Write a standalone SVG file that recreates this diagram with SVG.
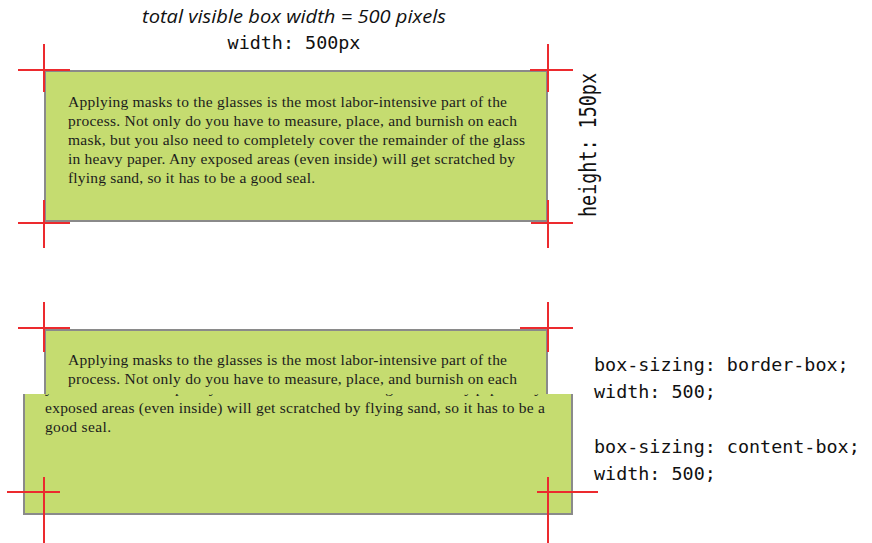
<svg xmlns="http://www.w3.org/2000/svg" width="872" height="543" viewBox="0 0 872 543">
<style>
.box{fill:#c5dc70;stroke:#8a8a8a;stroke-width:2}
.fill{fill:#c5dc70}
.edge{fill:none;stroke:#8a8a8a;stroke-width:2}
.body{font-family:"Liberation Serif",serif;font-size:15.5px;fill:#1c1c1c}
.mono{font-family:"DejaVu Sans Mono",monospace;font-size:18.4px;fill:#111}
.cap{font-family:"Open Sans","Noto Sans",sans-serif;font-style:italic;font-size:18px;fill:#111}
.cross{stroke:#ec2a2e;stroke-width:2;fill:none}
</style>
<defs>
<clipPath id="clipB"><rect x="24" y="394" width="548" height="121"/></clipPath>
</defs>
<rect width="872" height="543" fill="#fff"/>

<g id="title">
<text class="cap" x="294" y="23" text-anchor="middle" textLength="304" lengthAdjust="spacingAndGlyphs">total visible box width = 500 pixels</text>
<text class="mono" x="294" y="49" text-anchor="middle">width: 500px</text>
</g>

<g id="top-box">
<rect class="box" x="45" y="71" width="502" height="150"/>
<text class="body" x="68" y="107" textLength="439">Applying masks to the glasses is the most labor-intensive part of the</text>
<text class="body" x="68" y="126" textLength="449">process. Not only do you have to measure, place, and burnish on each</text>
<text class="body" x="68" y="145" textLength="457">mask, but you also need to completely cover the remainder of the glass</text>
<text class="body" x="68" y="164" textLength="447">in heavy paper. Any exposed areas (even inside) will get scratched by</text>
<text class="body" x="68" y="183" textLength="247">flying sand, so it has to be a good seal.</text>
</g>

<g id="height-label">
<text class="mono" transform="translate(596,145) rotate(-90) scale(1,1.25)" text-anchor="middle" textLength="144">height: 150px</text>
</g>

<g id="top-crosses" class="cross">
<path d="M44 44V92M18 70H70"/>
<path d="M548 44V92M530 70H573"/>
<path d="M44 200V248M18 223H70"/>
<path d="M548 200V248M531 223H573"/>
</g>

<g id="border-box">
<rect class="box" x="45" y="330" width="502" height="150"/>
<text class="body" x="68" y="365" textLength="439">Applying masks to the glasses is the most labor-intensive part of the</text>
<text class="body" x="68" y="384" textLength="449">process. Not only do you have to measure, place, and burnish on each</text>
</g>

<g id="border-box-crosses" class="cross">
<path d="M44 302V352M18 328H70"/>
<path d="M548 302V352M520 328H573"/>
</g>

<g id="content-box">
<rect class="fill" x="24" y="394" width="548" height="120"/>
<path class="edge" d="M24 394V514H572V394"/>
<g clip-path="url(#clipB)">
<text class="body" x="45" y="393" textLength="497">you also need to completely cover the remainder of the glass in heavy paper. Any</text>
<text class="body" x="45" y="413" textLength="500">exposed areas (even inside) will get scratched by flying sand, so it has to be a</text>
<text class="body" x="45" y="432" textLength="66">good seal.</text>
</g>
</g>

<g id="content-box-crosses" class="cross">
<path d="M44 477V543M7 492H60"/>
<path d="M548 477V543M537 492H598"/>
</g>

<g id="labels">
<text class="mono" x="594" y="371">box-sizing: border-box;</text>
<text class="mono" x="594" y="398">width: 500;</text>
<text class="mono" x="594" y="453">box-sizing: content-box;</text>
<text class="mono" x="594" y="480">width: 500;</text>
</g>
</svg>
